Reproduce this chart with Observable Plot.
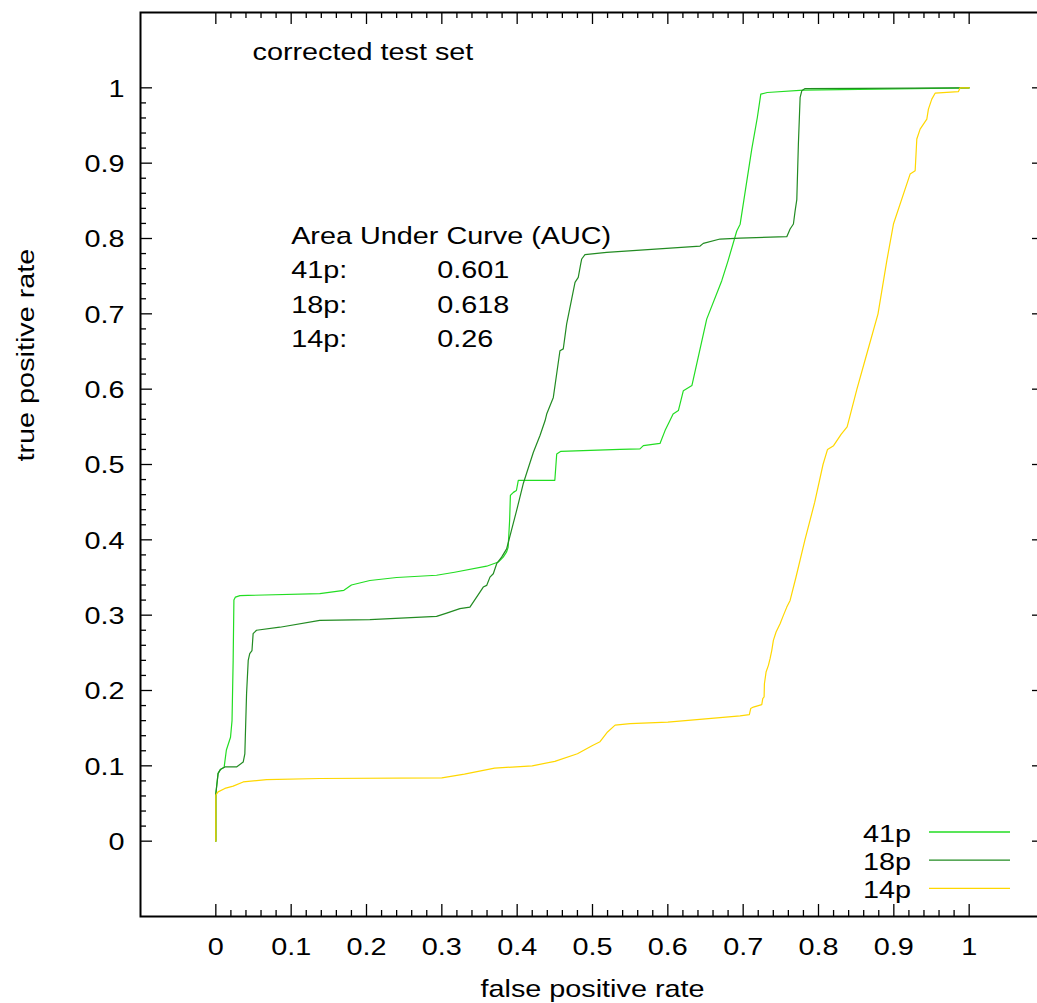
<!DOCTYPE html>
<html><head><meta charset="utf-8">
<script src="https://cdn.jsdelivr.net/npm/d3@7"></script>
<script src="https://cdn.jsdelivr.net/npm/@observablehq/plot@0.6"></script>
<style>html,body{margin:0;padding:0;background:#fff} #chart svg{display:block}</style>
</head><body><div id="chart"></div>
<script>
// ---- data ----
const seriesNames = ["41p", "18p", "14p"];
const seriesColors = ["#22dd22", "#228b22", "#ffd700"];

const roc41p = [[0,0],[0,0.063],[0.003,0.09],[0.006,0.095],[0.011,0.098],[0.014,0.121],[0.0195,0.138],[0.0215,0.16],[0.023,0.24],[0.024,0.32],[0.026,0.324],[0.032,0.326],[0.138,0.3285],[0.17,0.333],[0.18,0.34],[0.2045,0.346],[0.24,0.35],[0.293,0.353],[0.317,0.357],[0.3595,0.365],[0.375,0.3705],[0.3815,0.377],[0.386,0.384],[0.388,0.39],[0.39,0.426],[0.391,0.459],[0.395,0.463],[0.399,0.4655],[0.4015,0.479],[0.45,0.479],[0.4525,0.514],[0.458,0.5175],[0.5365,0.52],[0.563,0.5208],[0.5675,0.525],[0.5896,0.528],[0.5963,0.545],[0.6007,0.554],[0.607,0.567],[0.614,0.5716],[0.6206,0.598],[0.632,0.605],[0.6516,0.693],[0.6716,0.744],[0.68,0.7706],[0.6915,0.81],[0.696,0.819],[0.7114,0.9187],[0.7188,0.9606],[0.7234,0.9917],[0.732,0.9938],[0.78,0.997],[1,1]];

const roc18p = [[0,0],[0,0.063],[0.003,0.09],[0.006,0.095],[0.012,0.0985],[0.0275,0.0985],[0.0363,0.105],[0.0385,0.116],[0.0408,0.196],[0.043,0.24],[0.045,0.249],[0.048,0.253],[0.0495,0.2755],[0.054,0.28],[0.085,0.284],[0.138,0.293],[0.2045,0.294],[0.293,0.2984],[0.3064,0.3028],[0.324,0.3086],[0.3373,0.3107],[0.3506,0.3306],[0.355,0.3373],[0.3595,0.3395],[0.3639,0.3505],[0.3683,0.355],[0.3728,0.3683],[0.3794,0.377],[0.386,0.388],[0.3993,0.439],[0.408,0.4744],[0.4214,0.516],[0.4303,0.5385],[0.437,0.558],[0.4392,0.567],[0.448,0.589],[0.4568,0.651],[0.4612,0.6535],[0.4657,0.6866],[0.4724,0.7198],[0.4768,0.7418],[0.4811,0.7484],[0.4843,0.766],[0.4857,0.7728],[0.49,0.7785],[0.5188,0.7816],[0.6428,0.79],[0.6471,0.7935],[0.6693,0.7993],[0.6959,0.8006],[0.7579,0.8024],[0.7623,0.8126],[0.7667,0.8192],[0.769,0.837],[0.7712,0.8515],[0.7733,0.9253],[0.7756,0.9872],[0.7778,0.996],[0.7822,0.999],[1,1]];

const roc14p = [[0,0],[0,0.061],[0.003,0.0654],[0.012,0.07],[0.023,0.073],[0.0363,0.0786],[0.0673,0.0818],[0.138,0.0832],[0.3,0.084],[0.33,0.089],[0.37,0.097],[0.42,0.1],[0.45,0.106],[0.48,0.116],[0.5,0.127],[0.51,0.132],[0.52,0.145],[0.53,0.154],[0.55,0.156],[0.6,0.158],[0.6693,0.164],[0.6959,0.1662],[0.7082,0.168],[0.71,0.176],[0.7135,0.178],[0.7247,0.1813],[0.726,0.1893],[0.7278,0.1914],[0.7282,0.209],[0.7304,0.2245],[0.7335,0.2334],[0.7357,0.2423],[0.738,0.2533],[0.7401,0.2666],[0.7437,0.2776],[0.749,0.2887],[0.7534,0.2997],[0.7579,0.3107],[0.7623,0.3196],[0.77,0.35],[0.782,0.4],[0.795,0.45],[0.806,0.5],[0.812,0.52],[0.82,0.525],[0.83,0.54],[0.838,0.55],[0.851,0.6],[0.865,0.65],[0.879,0.7],[0.8907,0.7706],[0.8995,0.8192],[0.9216,0.8855],[0.9283,0.8899],[0.9305,0.932],[0.9349,0.9452],[0.9438,0.9585],[0.9459,0.9717],[0.9504,0.985],[0.9548,0.9929],[0.9858,0.995],[0.988,1],[1,1]];

const aucTitle = "Area Under Curve (AUC)";
const aucLabels = ["41p:", "18p:", "14p:"];
const aucValues = ["0.601", "0.618", "0.26"];
const chartTitle = "corrected test set";
const xLabel = "false positive rate";
const yLabel = "true positive rate";
const majorTicks = [0, 0.1, 0.2, 0.3, 0.4, 0.5, 0.6, 0.7, 0.8, 0.9, 1];
const majorTickLabels = ["0", "0.1", "0.2", "0.3", "0.4", "0.5", "0.6", "0.7", "0.8", "0.9", "1"];

// ---- layout ----
const W = 1037, H = 1003, mL = 140, mR = -7, mT = 12, mB = 87;
const innerW = W - mL - mR, innerH = H - mT - mB;
const FS = 24, STRETCH = 1.2;
const minorTicks = d3.range(1, 50).filter(i => i % 5 !== 0).map(i => i / 50);
const aucX = [0.1, 0.294], aucTop = 0.803, aucStep = 0.0457;

const table = [roc41p, roc18p, roc14p].flatMap((arr, i) => arr.map(([x, y]) => ({name: seriesNames[i], x, y})));
const tickRows = majorTicks.map((v, i) => ({v, label: majorTickLabels[i]}));
const aucRows = aucLabels.map((l, i) => ({label: l, value: aucValues[i], y: aucTop - (i + 1) * aucStep}));

const legendMark = (index, scales, values, dims) => {
  const g = d3.create("svg:g");
  const right = dims.width - dims.marginRight;
  const bottom = dims.height - dims.marginBottom;
  seriesNames.forEach((name, i) => {
    const cy = bottom - 82 + i * 28.2;
    g.append("text").attr("x", right - 133).attr("y", cy).attr("dy", "0.32em")
      .attr("text-anchor", "end").attr("font-size", FS).attr("fill", "black").text(name);
    g.append("line").attr("x1", right - 115).attr("x2", right - 34)
      .attr("y1", cy - 2).attr("y2", cy - 2)
      .attr("stroke", seriesColors[i]).attr("stroke-width", 1.3);
  });
  return g.node();
};

const T = {fontSize: FS, fill: "black", lineAnchor: "middle"};

const plot = Plot.plot({
  width: W, height: H,
  marginLeft: mL, marginRight: mR, marginTop: mT, marginBottom: mB,
  x: {domain: [-0.1, 1.1], axis: null},
  y: {domain: [-0.1, 1.1], axis: null},
  color: {domain: seriesNames, range: seriesColors},
  style: {fontFamily: "'Liberation Sans', Arial, sans-serif", fontSize: "24px", background: "white", color: "black"},
  marks: [
    Plot.line(table, {x: "x", y: "y", z: "name", stroke: "name", strokeWidth: 1.2}),
    Plot.ruleX(majorTicks, {x: d => d, insetTop: innerH - 12, strokeWidth: 1.3}),
    Plot.ruleX(majorTicks, {x: d => d, insetBottom: innerH - 12, strokeWidth: 1.3}),
    Plot.ruleX(minorTicks, {x: d => d, insetTop: innerH - 6, strokeWidth: 1.3}),
    Plot.ruleX(minorTicks, {x: d => d, insetBottom: innerH - 6, strokeWidth: 1.3}),
    Plot.ruleY(majorTicks, {y: d => d, insetRight: innerW - 12, strokeWidth: 1.3}),
    Plot.ruleY(majorTicks, {y: d => d, insetLeft: innerW - 12, strokeWidth: 1.3}),
    Plot.ruleY(minorTicks, {y: d => d, insetRight: innerW - 6, strokeWidth: 1.3}),
    Plot.ruleY(minorTicks, {y: d => d, insetLeft: innerW - 6, strokeWidth: 1.3}),
    Plot.frame({stroke: "black", strokeWidth: 2}),
    Plot.text(tickRows, {x: "v", text: "label", frameAnchor: "bottom", dy: 31, ...T}),
    Plot.text(tickRows, {y: "v", text: "label", frameAnchor: "left", dx: -16, dy: 1, textAnchor: "end", ...T}),
    Plot.text([xLabel], {text: d => d, frameAnchor: "bottom", dy: 73, ...T}),
    Plot.text([yLabel], {text: d => d, frameAnchor: "left", rotate: -90, dx: -114, dy: -3, ...T}),
    Plot.text([chartTitle], {text: d => d, frameAnchor: "top-left", dx: 112, dy: 40, textAnchor: "start", ...T}),
    Plot.text([aucTitle], {x: aucX[0], y: aucTop, text: d => d, textAnchor: "start", ...T}),
    Plot.text(aucRows, {x: aucX[0], y: "y", text: "label", textAnchor: "start", ...T}),
    Plot.text(aucRows, {x: aucX[1], y: "y", text: "value", textAnchor: "start", ...T}),
    legendMark
  ]
});

// widen glyphs horizontally (gnuplot's font is wider than Arial metrics)
plot.querySelectorAll("text").forEach(t => {
  let tx = 0, ty = 0;
  const xa = t.getAttribute("x"), ya = t.getAttribute("y");
  if (xa !== null && /^-?[\d.eE+-]+$/.test(xa)) { tx = +xa; t.removeAttribute("x"); }
  if (ya !== null && /^-?[\d.eE+-]+$/.test(ya)) { ty = +ya; t.removeAttribute("y"); }
  const tr = t.getAttribute("transform") || "";
  t.setAttribute("transform", `${tr} translate(${tx},${ty}) scale(${STRETCH},1)`);
});

document.getElementById("chart").appendChild(plot);
</script>
</body></html>
